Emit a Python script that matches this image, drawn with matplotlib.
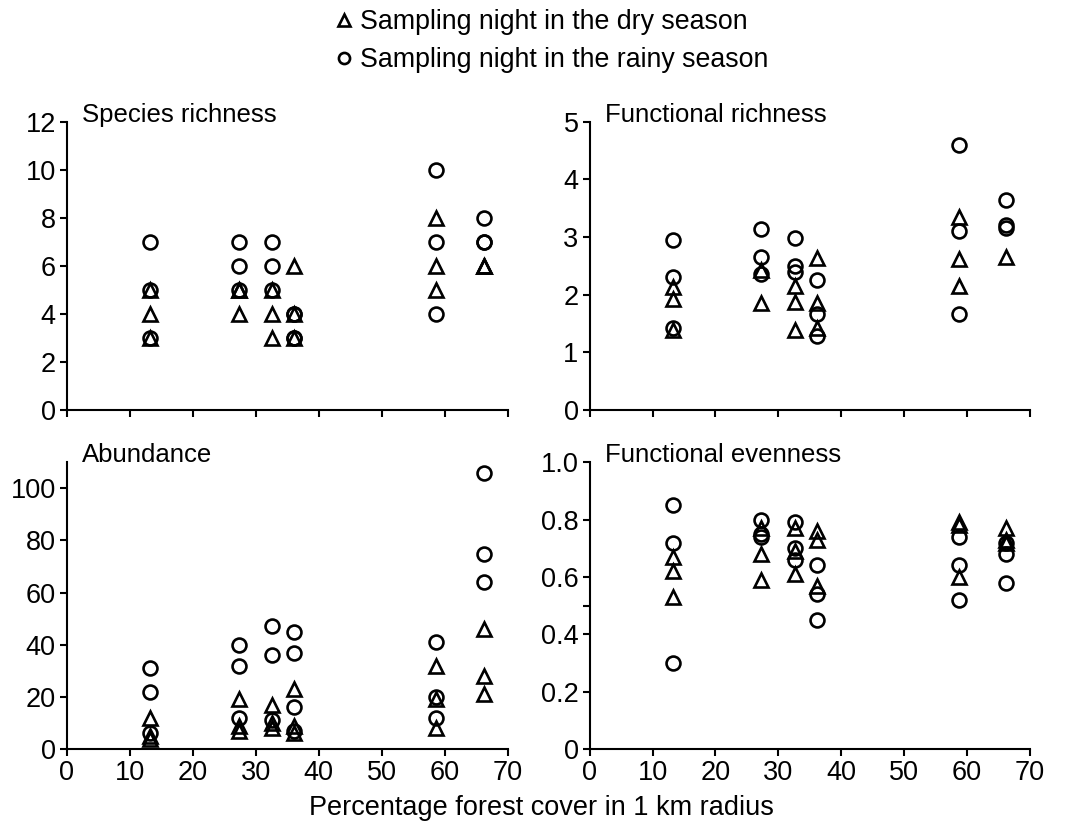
import matplotlib
matplotlib.use("Agg")
import matplotlib.pyplot as plt
from matplotlib.lines import Line2D

plt.rcParams['font.family'] = ['Liberation Sans', 'DejaVu Sans']
plt.rcParams['font.size'] = 19

# forest cover (%) of each site
site_x = [13.2, 27.3, 32.6, 36.1, 58.7, 66.3]

# values per site, dry and rainy season nights
sr_dry = [[5, 4, 3], [5, 5, 4], [5, 4, 3], [6, 4, 3], [8, 6, 5], [6, 6, 6]]
sr_wet = [[7, 5, 3], [7, 6, 5], [7, 6, 5], [4, 4, 3, 3], [10, 7, 4], [8, 7, 7]]

fr_dry = [[2.13, 1.92, 1.39], [2.43, 1.85], [2.15, 1.88, 1.39],
          [2.63, 1.85, 1.42], [3.35, 2.62, 2.15], [2.66]]
fr_wet = [[2.95, 2.30, 1.43], [3.14, 2.66, 2.35], [2.98, 2.50, 2.40],
          [2.26, 1.66, 1.28], [4.60, 3.10, 1.67], [3.64, 3.21, 3.15]]

ab_dry = [[12, 5, 4], [19, 9, 7], [17, 10, 8], [23, 9, 6], [32, 19, 8], [46, 28, 21]]
ab_wet = [[31, 22, 6], [40, 32, 12], [47, 36, 11], [45, 37, 16, 7], [41, 20, 12], [106, 75, 64]]

fe_dry = [[0.67, 0.62, 0.53], [0.77, 0.68, 0.59], [0.77, 0.69, 0.61],
          [0.76, 0.73, 0.57], [0.79, 0.78, 0.60], [0.77, 0.73, 0.72]]
fe_wet = [[0.85, 0.72, 0.30], [0.80, 0.75, 0.74], [0.79, 0.70, 0.66],
          [0.64, 0.54, 0.45], [0.74, 0.64, 0.52], [0.72, 0.68, 0.58]]


def flat(groups):
    xs, ys = [], []
    for sx, vals in zip(site_x, groups):
        for v in vals:
            xs.append(sx)
            ys.append(v)
    return xs, ys


fig = plt.figure(figsize=(10.8, 8.24), dpi=100)

panels = [
    # (rect, title, dry, wet, ylim, yticks, yticklabels, show x labels)
    ([0.062, 0.5024, 0.408, 0.350], "Species richness", sr_dry, sr_wet, 12,
     [0, 2, 4, 6, 8, 10, 12], None, False),
    ([0.546, 0.5024, 0.4074, 0.350], "Functional richness", fr_dry, fr_wet, 5,
     [0, 1, 2, 3, 4, 5], None, False),
    ([0.062, 0.091, 0.408, 0.348], "Abundance", ab_dry, ab_wet, 110,
     [0, 20, 40, 60, 80, 100], None, True),
    ([0.546, 0.091, 0.4074, 0.348], "Functional evenness", fe_dry, fe_wet, 1.0,
     [0, 0.2, 0.4, 0.6, 0.8, 1.0], ['0', '0.2', '0.4', '0.6', '0.8', '1.0'], True),
]

for rect, title, dry, wet, ymax, yt, ytl, xlab in panels:
    ax = fig.add_axes(rect)
    dx, dy = flat(dry)
    wx, wy = flat(wet)
    ax.plot(dx, dy, linestyle='none', marker='^', markersize=10,
            markerfacecolor='none', markeredgecolor='black', markeredgewidth=1.9,
            clip_on=False)
    ax.plot(wx, wy, linestyle='none', marker='o', markersize=10,
            markerfacecolor='none', markeredgecolor='black', markeredgewidth=1.9,
            clip_on=False)
    ax.set_xlim(0, 70)
    ax.set_ylim(0, ymax)
    ax.set_xticks(range(0, 71, 10))
    ax.set_yticks(yt)
    if ytl:
        ax.set_yticklabels(ytl)
        # stray unlabelled tick at 0.5 in the original
        ax.set_yticks([0.5], minor=True)
    if not xlab:
        ax.set_xticklabels([])
    ax.spines['top'].set_visible(False)
    ax.spines['right'].set_visible(False)
    ax.spines['left'].set_linewidth(1.5)
    ax.spines['bottom'].set_linewidth(1.5)
    ax.tick_params(direction='out', length=5, width=1.5, labelsize=19.5, pad=3)
    ax.tick_params(which='minor', direction='out', length=5, width=1.5)
    ax.text(0.034, 1.0, title, transform=ax.transAxes, fontsize=18.5,
            ha='left', va='baseline')

fig.text(0.501, 0.019, "Percentage forest cover in 1 km radius", ha='center',
         va='center', fontsize=19.5)

handles = [
    Line2D([], [], linestyle='none', marker='^', markersize=8,
           markerfacecolor='none', markeredgecolor='black', markeredgewidth=1.9),
    Line2D([], [], linestyle='none', marker='o', markersize=8,
           markerfacecolor='none', markeredgecolor='black', markeredgewidth=1.9),
]
fig.legend(handles, ["Sampling night in the dry season",
                     "Sampling night in the rainy season"],
           loc='upper center', bbox_to_anchor=(0.512, 1.018), frameon=False,
           fontsize=19.3, handlelength=0.5, handletextpad=0.35, labelspacing=0.45)

plt.savefig("out.png", dpi=100)
